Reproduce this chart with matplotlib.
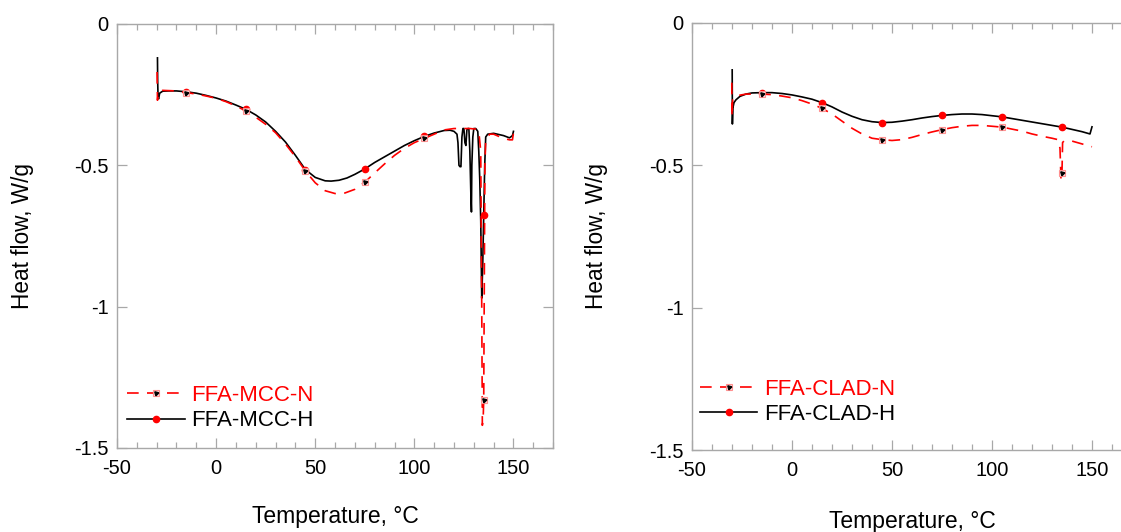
import numpy as np
import matplotlib
matplotlib.use("Agg")
import matplotlib.pyplot as plt

plt.rcParams["font.family"] = ["Liberation Sans", "DejaVu Sans"]
plt.rcParams["axes.unicode_minus"] = False

# marker temperatures used by the instrument export (every 30 degC)
marker_temps = [-15, 15, 45, 75, 105, 135]

# ---- left panel: FFA-MCC ----
mcc_h_t = [-29.6, -29.5, -29.3, -29.0, -28.5, -27, -24, -20, -15, -10, -5, 0, 5, 10, 15,
           20, 25, 30, 35, 40, 45, 50, 55, 58, 62, 66, 70, 75, 80, 85, 90, 95, 100, 105,
           110, 115, 118, 120, 121.5, 122, 122.5, 123, 123.5, 124, 124.5, 125, 125.5, 126,
           126.5, 127, 127.5, 128, 128.5, 128.8, 129, 129.5, 130, 131, 132, 132.5, 133,
           133.5, 134, 134.5, 135, 135.5, 136, 137, 140, 145, 148, 149.5, 150]
mcc_h_q = [-0.12, -0.20, -0.26, -0.265, -0.245, -0.238, -0.237, -0.237, -0.24, -0.245,
           -0.253, -0.262, -0.273, -0.287, -0.302, -0.322, -0.347, -0.38, -0.418, -0.465,
           -0.515, -0.543, -0.555, -0.556, -0.553, -0.545, -0.532, -0.513, -0.49, -0.47,
           -0.45, -0.43, -0.413, -0.398, -0.386, -0.377, -0.376, -0.38, -0.39, -0.42, -0.50,
           -0.505, -0.505, -0.40, -0.37, -0.37, -0.42, -0.43, -0.375, -0.37, -0.37, -0.45,
           -0.60, -0.665, -0.50, -0.40, -0.37, -0.37, -0.38, -0.45, -0.55, -0.70, -0.97,
           -0.85, -0.676, -0.50, -0.40, -0.39, -0.387, -0.395, -0.403, -0.395, -0.38]

mcc_n_t = [-29.8, -29.6, -29.3, -28.5, -27, -20, -15, -10, -5, 0, 5, 10, 15, 20, 25, 30,
           35, 40, 45, 50, 55, 60, 65, 70, 75, 80, 85, 90, 95, 100, 105, 110, 115, 120,
           125, 128, 131, 132.5, 133.5, 134, 134.3, 134.7, 135, 135.3, 135.6, 136, 138,
           140, 145, 148, 149.5, 150]
mcc_n_q = [-0.17, -0.27, -0.25, -0.24, -0.235, -0.237, -0.243, -0.248, -0.255, -0.263,
           -0.275, -0.29, -0.308, -0.33, -0.355, -0.385, -0.425, -0.47, -0.52, -0.562,
           -0.59, -0.60, -0.598, -0.585, -0.56, -0.527, -0.495, -0.465, -0.44, -0.42,
           -0.405, -0.39, -0.375, -0.37, -0.37, -0.37, -0.372, -0.38, -0.45, -1.0, -1.42,
           -1.40, -1.33, -0.9, -0.50, -0.41, -0.39, -0.39, -0.405, -0.41, -0.41, -0.385]

# ---- right panel: FFA-CLAD ----
clad_h_t = [-29.9, -29.8, -29.6, -29.0, -28, -26, -23, -20, -15, -10, -5, 0, 5, 10, 15,
            20, 25, 30, 35, 40, 45, 50, 55, 60, 65, 70, 75, 80, 85, 90, 95, 100, 105, 110,
            115, 120, 125, 130, 135, 140, 145, 149, 150]
clad_h_q = [-0.165, -0.355, -0.30, -0.28, -0.27, -0.258, -0.25, -0.246, -0.245, -0.245,
            -0.248, -0.253, -0.26, -0.268, -0.28, -0.295, -0.313, -0.328, -0.34, -0.347,
            -0.35, -0.349, -0.345, -0.34, -0.334, -0.329, -0.325, -0.322, -0.32, -0.32,
            -0.322, -0.326, -0.33, -0.336, -0.342, -0.348, -0.354, -0.36, -0.366, -0.374,
            -0.382, -0.39, -0.365]

clad_n_t = [-30.1, -30.0, -29.7, -29, -27, -23, -15, -10, -5, 0, 5, 10, 15, 20, 25, 30,
            35, 40, 45, 50, 55, 60, 65, 70, 75, 80, 85, 90, 95, 100, 105, 110, 115, 120,
            125, 130, 133, 134, 134.5, 135, 135.3, 136, 140, 145, 150]
clad_n_q = [-0.21, -0.33, -0.27, -0.26, -0.255, -0.25, -0.25, -0.252, -0.257, -0.263,
            -0.273, -0.285, -0.30, -0.32, -0.345, -0.37, -0.39, -0.405, -0.41, -0.413,
            -0.41, -0.402, -0.392, -0.383, -0.375, -0.368, -0.363, -0.36, -0.36, -0.363,
            -0.366, -0.373, -0.38, -0.39, -0.398, -0.405, -0.41, -0.44, -0.55, -0.527,
            -0.42, -0.415, -0.415, -0.425, -0.435]

panels = [
    dict(n=(mcc_n_t, mcc_n_q), h=(mcc_h_t, mcc_h_q),
         labels=("FFA-MCC-N", "FFA-MCC-H"), rect=[0.1044, 0.158, 0.389, 0.797],
         leg=(-0.023, -0.008), xlab_y=-0.134),
    dict(n=(clad_n_t, clad_n_q), h=(clad_h_t, clad_h_q),
         labels=("FFA-CLAD-N", "FFA-CLAD-H"), rect=[0.6173, 0.154, 0.3925, 0.803],
         leg=(-0.028, 0.012), xlab_y=-0.14),
]


def _marks(t):
    return [i for i, v in enumerate(t) if v in marker_temps]


fig = plt.figure(figsize=(11.21, 5.32), dpi=100)
grey = "#a8a8a8"

for p in panels:
    ax = fig.add_axes(p["rect"])
    nt, nq = p["n"]
    ht, hq = p["h"]

    n_line, = ax.plot(nt, nq, color="red", lw=1.2, ls=(0, (7, 5)),
                      marker="s", ms=4, mfc="#ffe0e0", mec="#ff9090", mew=0.8,
                      markevery=_marks(nt), zorder=3)
    n_mark, = ax.plot(nt, nq, ls="none", marker=(3, 0, 45), ms=3.5, color="black",
                      markevery=_marks(nt), zorder=4)
    h_line, = ax.plot(ht, hq, color="black", lw=1.2, marker="o", ms=4.5,
                      mfc="red", mec="red", markevery=_marks(ht), zorder=2)

    ax.set_xlim(-50, 170)
    ax.set_ylim(-1.5, 0)
    ax.set_xticks([-50, 0, 50, 100, 150])
    ax.set_xticks(np.arange(-50, 171, 10), minor=True)
    ax.set_yticks([-1.5, -1, -0.5, 0])
    ax.set_yticklabels(["-1.5", "-1", "-0.5", "0"])
    ax.tick_params(which="both", direction="in", top=True, right=True, color=grey,
                   labelsize=14.5, width=0.9)
    ax.tick_params(which="major", length=7)
    ax.tick_params(which="minor", length=4)
    ax.tick_params(axis="x", pad=8)
    ax.tick_params(axis="y", pad=6)
    for s in ax.spines.values():
        s.set_color(grey)
        s.set_linewidth(1.0)

    ax.set_xlabel("Temperature, °C", fontsize=16.5, va="top")
    ax.xaxis.set_label_coords(0.5, p["xlab_y"])
    ax.set_ylabel("Heat flow, W/g", fontsize=16.3)
    ax.yaxis.set_label_coords(-0.19, 0.5)

    ax.legend([(n_line, n_mark), h_line], list(p["labels"]), loc="lower left",
              bbox_to_anchor=p["leg"], frameon=False, fontsize=16, handlelength=2.6,
              handletextpad=0.3, labelspacing=0.2, labelcolor=["red", "black"])

fig.savefig("out.png", dpi=100)
